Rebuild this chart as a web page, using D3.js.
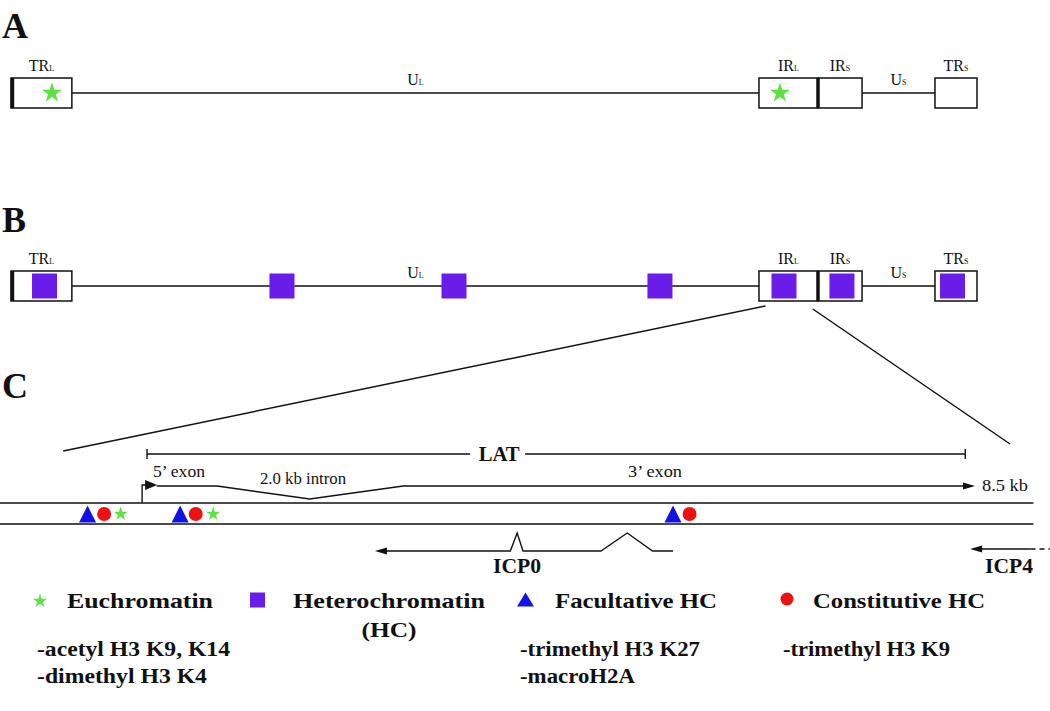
<!DOCTYPE html>
<html>
<head>
<meta charset="utf-8">
<script src="https://cdn.jsdelivr.net/npm/d3@7"></script>
<style>
body { margin: 0; background: #fff; }
svg text { font-family: "Liberation Serif", "Times New Roman", serif; fill: #111; }
</style>
</head>
<body>
<div id="chart"></div>
<script>

// genome map, positions in percent of genome length
var repeatRegions = [
    {name: "TR", sub: "L", start: 0, end: 6.3},
    {name: "IR", sub: "L", start: 77.43, end: 83.54},
    {name: "IR", sub: "S", start: 83.54, end: 88.1},
    {name: "TR", sub: "S", start: 95.65, end: 100}
];
var uniqueRegions = [
    {name: "U", sub: "L", start: 6.3, end: 77.43},
    {name: "U", sub: "S", start: 88.1, end: 95.65}
];
var junctions = [0.15, 83.54];
var euchromatinA = [4.24, 79.6];
var heterochromatinB = [3.47, 28.05, 45.86, 67.18, 80.02, 86.02, 97.46];

// zoom from IR-L (map units) to LAT region (kb)
var zoomFrom = [78.1, 83.0];
var zoomTo = [-0.86, 8.86];

// LAT region, positions in kb
var latSpan = [0, 8.4];
var promoterKb = -0.05;
var transcript = [[0.1, 0], [0.72, 0], [1.67, 1], [2.63, 0], [8.5, 0]];
var dnaSpan = [-1.51, 9.1];
var icp0 = [[2.34, 0], [3.73, 0], [3.80, 1], [3.86, 0], [4.66, 0], [4.93, 1], [5.19, 0], [5.40, 0]];
var icp4 = [8.45, 9.07, 9.3];
var marksC = [
    {type: "fac", kb: -0.61}, {type: "con", kb: -0.44}, {type: "eu", kb: -0.27},
    {type: "fac", kb: 0.34}, {type: "con", kb: 0.50}, {type: "eu", kb: 0.68},
    {type: "fac", kb: 5.40}, {type: "con", kb: 5.57}
];

// legend
var legendTypes = ["eu", "het", "fac", "con"];
var legendNames = [["Euchromatin"], ["Heterochromatin", "(HC)"], ["Facultative HC"], ["Constitutive HC"]];
var legendMods = [["-acetyl H3 K9, K14", "-dimethyl H3 K4"], [], ["-trimethyl H3 K27", "-macroH2A"], ["-trimethyl H3 K9"]];

// styles
var colors = {eu: "#5fe043", het: "#6a1de8", fac: "#1212e2", con: "#ee1111"};
var ink = "#111";

// init svg
var width = 1050, height = 711;
var svg = d3.select("#chart").append("svg")
    .attr("width", width)
    .attr("height", height);

// init scales
var xMap = d3.scaleLinear().domain([0, 100]).range([11, 977]);
var xKb = d3.scaleLinear().domain([0, 8.5]).range([147, 975]);

// panel letters
svg.selectAll("text.panel")
    .data([["A", 38], ["B", 232], ["C", 398]])
    .enter().append("text")
    .attr("class", "panel")
    .attr("x", 2)
    .attr("y", d => d[1])
    .attr("font-size", 36)
    .attr("font-weight", "bold")
    .text(d => d[0]);

// symbols, size: 0 legend, 1 track, 2 genome map
function drawMark(g, type, cx, cy, size) {
    if (type == "eu") {
        var r = [7.5, 7.5, 10.5][size];
        g.append("path")
            .attr("d", d3.symbol(d3.symbolStar, r * r / 0.8908)())
            .attr("transform", "translate(" + cx + "," + cy + ")")
            .attr("fill", colors.eu);
    }
    else if (type == "het") {
        var s = size == 2 ? 25 : 15;
        g.append("rect")
            .attr("x", cx - s / 2).attr("y", cy - s / 2)
            .attr("width", s).attr("height", s)
            .attr("fill", colors.het);
    }
    else if (type == "fac") {
        var w = 17, h = size ? 17 : 14;
        g.append("path")
            .attr("d", "M" + (cx - w / 2) + "," + (cy + h / 2) + "L" + cx + "," + (cy - h / 2) + "L" + (cx + w / 2) + "," + (cy + h / 2) + "Z")
            .attr("fill", colors.fac);
    }
    else {
        g.append("circle")
            .attr("cx", cx).attr("cy", cy)
            .attr("r", size ? 7 : 6.5)
            .attr("fill", colors.con);
    }
}

function arrowHead(g, x, y, dir, len, half) {
    g.append("path")
        .attr("d", "M" + x + "," + y + "L" + (x - dir * len) + "," + (y - half) + "L" + (x - dir * len) + "," + (y + half) + "Z")
        .attr("fill", ink);
}

function regionLabel(g, d, y) {
    var t = g.append("text")
        .attr("x", xMap((d.start + d.end) / 2))
        .attr("y", y)
        .attr("text-anchor", "middle")
        .attr("font-size", 16);
    t.append("tspan").text(d.name);
    t.append("tspan").attr("font-size", 8).text(d.sub);
}

// genome map panel
function drawMap(top, type, marks) {
    var g = svg.append("g").attr("class", "map");
    var mid = top + 15;

    g.append("line")
        .attr("x1", xMap(0)).attr("x2", xMap(100))
        .attr("y1", mid).attr("y2", mid)
        .attr("stroke", ink).attr("stroke-width", 1.6);

    g.selectAll("rect.region")
        .data(repeatRegions)
        .enter().append("rect")
        .attr("class", "region")
        .attr("x", d => xMap(d.start))
        .attr("y", top)
        .attr("width", d => xMap(d.end) - xMap(d.start))
        .attr("height", 30)
        .attr("fill", "#fff")
        .attr("stroke", ink)
        .attr("stroke-width", 1.5);

    g.selectAll("line.junction")
        .data(junctions)
        .enter().append("line")
        .attr("class", "junction")
        .attr("x1", d => xMap(d)).attr("x2", d => xMap(d))
        .attr("y1", top).attr("y2", top + 30)
        .attr("stroke", ink).attr("stroke-width", 3.5);

    repeatRegions.forEach(d => regionLabel(g, d, top - 7));
    uniqueRegions.forEach(d => regionLabel(g, d, top + 7));

    marks.forEach(m => drawMark(g, type, xMap(m), mid, 2));
}

drawMap(78, "eu", euchromatinA);
drawMap(271, "het", heterochromatinB);

// panel C
var gc = svg.append("g").attr("class", "lat");

// zoom lines
gc.selectAll("line.zoom")
    .data([[zoomFrom[0], 306, zoomTo[0], 451], [zoomFrom[1], 309, zoomTo[1], 444]])
    .enter().append("line")
    .attr("class", "zoom")
    .attr("x1", d => xMap(d[0])).attr("y1", d => d[1])
    .attr("x2", d => xKb(d[2])).attr("y2", d => d[3])
    .attr("stroke", ink).attr("stroke-width", 1.5);

// LAT bracket
var latY = 454;
var latMid = (xKb(latSpan[0]) + xKb(latSpan[1])) / 2 - 57;
gc.append("line")
    .attr("x1", xKb(latSpan[0])).attr("x2", latMid - 29)
    .attr("y1", latY).attr("y2", latY)
    .attr("stroke", ink).attr("stroke-width", 1.4);
gc.append("line")
    .attr("x1", latMid + 26).attr("x2", xKb(latSpan[1]))
    .attr("y1", latY).attr("y2", latY)
    .attr("stroke", ink).attr("stroke-width", 1.4);
gc.selectAll("line.tick")
    .data(latSpan)
    .enter().append("line")
    .attr("class", "tick")
    .attr("x1", d => xKb(d)).attr("x2", d => xKb(d))
    .attr("y1", latY - 5).attr("y2", latY + 5)
    .attr("stroke", ink).attr("stroke-width", 1.4);
gc.append("text")
    .attr("x", latMid).attr("y", latY + 7)
    .attr("text-anchor", "middle")
    .attr("font-size", 21).attr("font-weight", "bold")
    .attr("textLength", 41).attr("lengthAdjust", "spacingAndGlyphs")
    .text("LAT");

// transcript
var txY = 486;
var txEnd = transcript[transcript.length - 1][0];
gc.append("path")
    .attr("d", d3.line().x(d => xKb(d[0])).y(d => txY + 13 * d[1])(transcript.slice(0, transcript.length - 1).concat([[txEnd - 0.1, 0]])))
    .attr("fill", "none").attr("stroke", ink).attr("stroke-width", 1.4);
arrowHead(gc, xKb(txEnd), txY, 1, 12, 3.5);

// promoter
var dnaTop = 503, dnaBottom = 524;
gc.append("path")
    .attr("d", "M" + xKb(promoterKb) + "," + dnaTop + "V" + (txY - 1) + "H" + (xKb(promoterKb) + 4))
    .attr("fill", "none").attr("stroke", ink).attr("stroke-width", 1.4);
arrowHead(gc, xKb(promoterKb) + 15, txY - 1, 1, 12, 5);

// DNA
gc.selectAll("line.dna")
    .data([dnaTop, dnaBottom])
    .enter().append("line")
    .attr("class", "dna")
    .attr("x1", xKb(dnaSpan[0])).attr("x2", xKb(dnaSpan[1]))
    .attr("y1", d => d).attr("y2", d => d)
    .attr("stroke", ink).attr("stroke-width", 1.6);

marksC.forEach(m => drawMark(gc, m.type, xKb(m.kb), 514, 1));

// ICP0
var icpY = 551;
gc.append("path")
    .attr("d", d3.line().x((d, i) => xKb(d[0]) + (i == 0 ? 10 : 0)).y(d => icpY - 18 * d[1])(icp0))
    .attr("fill", "none").attr("stroke", ink).attr("stroke-width", 1.4);
arrowHead(gc, xKb(icp0[0][0]), icpY, -1, 12, 3.5);

// ICP4
var icp4Y = 549;
gc.append("line")
    .attr("x1", xKb(icp4[0]) + 10).attr("x2", xKb(icp4[1]))
    .attr("y1", icp4Y).attr("y2", icp4Y)
    .attr("stroke", ink).attr("stroke-width", 1.4);
gc.append("line")
    .attr("x1", xKb(icp4[1])).attr("x2", xKb(icp4[2]))
    .attr("y1", icp4Y).attr("y2", icp4Y)
    .attr("stroke", ink).attr("stroke-width", 1.4)
    .attr("stroke-dasharray", "5,4");
arrowHead(gc, xKb(icp4[0]), icp4Y, -1, 12, 3.5);

// LAT region texts
var latTexts = [
    {t: "5\u2019 exon", x: 153, y: 477, len: 52, size: 16, bold: false},
    {t: "2.0 kb intron", x: 260, y: 484, len: 86, size: 16, bold: false},
    {t: "3\u2019 exon", x: 628, y: 477, len: 54, size: 16, bold: false},
    {t: "8.5 kb", x: 982, y: 491, len: 46, size: 16, bold: false},
    {t: "ICP0", x: 493, y: 573, len: 48, size: 20, bold: true},
    {t: "ICP4", x: 985, y: 573, len: 48, size: 20, bold: true}
];
gc.selectAll("text.lab")
    .data(latTexts)
    .enter().append("text")
    .attr("class", "lab")
    .attr("x", d => d.x).attr("y", d => d.y)
    .attr("font-size", d => d.size)
    .attr("font-weight", d => d.bold ? "bold" : "normal")
    .attr("textLength", d => d.len)
    .attr("lengthAdjust", "spacingAndGlyphs")
    .text(d => d.t);

// legend
var legendSymX = [40, 257.5, 525.5, 787];
var legendSymY = [601, 600, 599.5, 599];
var legendTextX = [67, 293, 555, 813];
var legendNameLen = [[146, 55], [192, 55], [162], [172]];
var legendModX = [37, 0, 520, 783];
var legendModLen = [[193, 170], [], [180, 115], [167]];

var lg = svg.append("g").attr("class", "legend");
legendTypes.forEach(function(type, i) {
    drawMark(lg, type, legendSymX[i], legendSymY[i], 0);
    legendNames[i].forEach(function(name, j) {
        lg.append("text")
            .attr("x", j == 0 ? legendTextX[i] : legendTextX[i] + legendNameLen[i][0] / 2)
            .attr("y", 608 + 29 * j)
            .attr("text-anchor", j == 0 ? "start" : "middle")
            .attr("font-size", 21).attr("font-weight", "bold")
            .attr("textLength", legendNameLen[i][j])
            .attr("lengthAdjust", "spacingAndGlyphs")
            .text(name);
    });
    legendMods[i].forEach(function(mod, j) {
        lg.append("text")
            .attr("x", legendModX[i])
            .attr("y", 656 + 27 * j)
            .attr("font-size", 20).attr("font-weight", "bold")
            .attr("textLength", legendModLen[i][j])
            .attr("lengthAdjust", "spacingAndGlyphs")
            .text(mod);
    });
});

</script>
</body>
</html>
